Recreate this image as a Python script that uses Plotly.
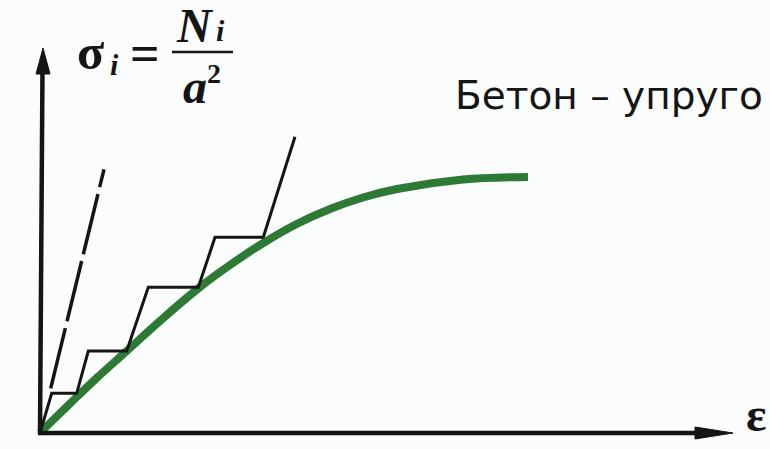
import plotly.graph_objects as go

# strain (eps) / stress (sigma) in arbitrary units, origin at the axes corner
stair_eps = [0, 1.17, 3.67, 4.83, 8.67, 10.83, 15.83, 17.5, 22.33, 25.5]
stair_sig = [0, 3.97, 3.97, 8.2, 8.2, 14.57, 14.57, 19.57, 19.57, 29.63]

dash_eps = [1.07, 6.4]
dash_sig = [4.47, 26.37]

curve_eps = [0, 1.0, 3.67, 5.67, 8.67, 12.33, 16.0, 19.0, 22.33, 25.67, 29.0, 32.3, 35.7, 42.3, 48.8]
curve_sig = [0, 1.0, 3.6, 5.5, 8.2, 11.5, 14.6, 16.8, 19.0, 20.9, 22.4, 23.55, 24.4, 25.35, 25.6]

X_END, Y_END = 69.3, 38.5   # axis arrow tips

INK = "#151515"
GREEN = "#2d7a35"
SERIF = "Liberation Serif, Times New Roman, serif"
SANS = "DejaVu Sans, Liberation Sans, Arial, sans-serif"
W, H = 770, 449

fig = go.Figure()
fig.add_trace(go.Scatter(x=curve_eps, y=curve_sig, mode="lines", line_shape="spline",
                         line=dict(color=GREEN, width=8, smoothing=1.0), hoverinfo="skip"))
fig.add_trace(go.Scatter(x=stair_eps, y=stair_sig, mode="lines",
                         line=dict(color=INK, width=3), hoverinfo="skip"))
fig.add_trace(go.Scatter(x=dash_eps, y=dash_sig, mode="lines",
                         line=dict(color=INK, width=3.5, dash="62px,7px"), hoverinfo="skip"))

# axes drawn as arrows
fig.add_shape(type="line", x0=-0.2, y0=0, x1=X_END - 3, y1=0, line=dict(color=INK, width=4.5))
fig.add_shape(type="line", x0=0, y0=-0.1, x1=0.25, y1=Y_END - 2, line=dict(color=INK, width=4.5))
fig.add_shape(type="path", path=f"M {X_END - 3.8},-0.6 L {X_END},0 L {X_END - 3.8},0.6 Z",
              fillcolor=INK, line=dict(color=INK, width=1))
fig.add_shape(type="path", path=f"M -0.4,{Y_END - 2.6} L 0.3,{Y_END} L 1.0,{Y_END - 2.6} Z",
              fillcolor=INK, line=dict(color=INK, width=1))


def label(text, px, py, size, font=SERIF, xanchor="center"):
    fig.add_annotation(x=px / W, y=1 - py / H, xref="paper", yref="paper", text=text,
                       showarrow=False, xanchor=xanchor, yanchor="middle",
                       font=dict(family=font, size=size, color=INK))


label("<b>σ</b>", 90, 52, 50)
label("<b><i>i</i></b>", 114, 64, 30)
label("<b>=</b>", 145, 53, 52)
label("<b><i>N</i></b>", 195, 26, 48)
label("<b><i>i</i></b>", 220, 30, 30)
label("<b><i>a</i></b>", 195, 86, 48)
label("<b>2</b>", 214, 74, 28)
label("<b>ε</b>", 756, 414, 48)
label("Бетон – упруго", 453, 95, 39, font=SANS, xanchor="left")

fig.add_shape(type="line", xref="paper", yref="paper", x0=172 / W, x1=233 / W,
              y0=1 - 52 / H, y1=1 - 52 / H, line=dict(color=INK, width=2.5))

fig.update_layout(
    width=W, height=H, margin=dict(l=0, r=0, t=0, b=0), showlegend=False,
    paper_bgcolor="#fbfcfc", plot_bgcolor="#fbfcfc",
    xaxis=dict(range=[-4.0, 73.0], visible=False, fixedrange=True),
    yaxis=dict(range=[-1.6, 43.3], visible=False, fixedrange=True),
)
# page body has a default 8px margin; drop it so the figure sits at the window corner
fig.write_html("out.html", config={"displayModeBar": False},
               post_script="document.body.style.margin = '0';")
